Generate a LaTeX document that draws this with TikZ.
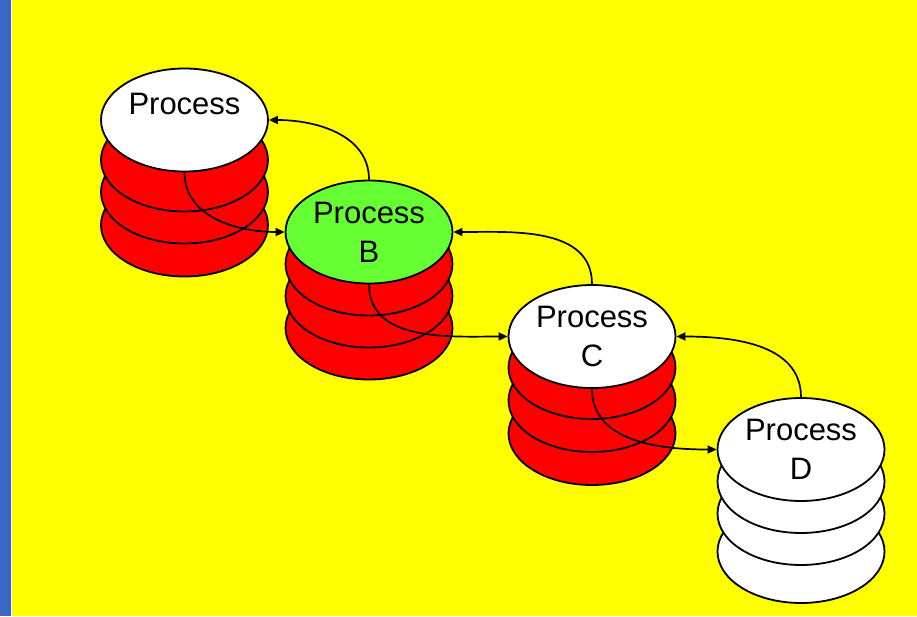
\documentclass[tikz,border=0pt]{standalone}
\usepackage{fontspec}
\setmainfont{Liberation Sans}
\usetikzlibrary{shapes.geometric,arrows.meta,calc}
\definecolor{bgyellow}{RGB}{255,255,0}
\definecolor{barblue}{RGB}{58,102,198}
\definecolor{procgreen}{RGB}{102,255,51}
\definecolor{procred}{RGB}{255,0,0}

\begin{document}
\begin{tikzpicture}[>={Triangle[length=9pt,width=8pt]}, x=1pt, y=-1pt,
        disk/.style={draw=black, line width=1.8pt},
        proc/.style={disk, ellipse, minimum width=167pt, minimum height=103pt,
            inner sep=0pt, align=center, font=\fontsize{31}{39}\selectfont},
        link/.style={->, line width=1.7pt}]
            \fill[bgyellow] (0,0) rectangle (917,616);
            \fill[barblue] (0,0) rectangle (10.5,616);
            \fill[white] (10.5,0) rectangle (11.5,616);
            \coordinate (a) at (184.5,120);
            \coordinate (b) at (369,232);
            \coordinate (c) at (592,336.5);
            \coordinate (d) at (801,449.5);
            % the layers under each process
            \foreach \dy in {105,72,40}
                \draw[disk,fill=procred] ($(a)+(0,\dy)$) ellipse (83.5 and 51.5);
            \foreach \dy in {96,64,32}
                \draw[disk,fill=procred] ($(b)+(0,\dy)$) ellipse (83.5 and 51.5);
            \foreach \dy in {97,64,31}
                \draw[disk,fill=procred] ($(c)+(0,\dy)$) ellipse (83.5 and 51.5);
            \foreach \dy in {102,64,32}
                \draw[disk,fill=white] ($(d)+(0,\dy)$) ellipse (83.5 and 51.5);
            \node[proc,fill=white] (pa) at (a) {Process\\[-6pt]\mbox{}};
            \node[proc,fill=procgreen] (pb) at (b) {Process\\B};
            \node[proc,fill=white] (pc) at (c) {Process\\C};
            \node[proc,fill=white] (pd) at (d) {Process\\D};
            % links
            \draw[link] (pb.north) to[out=90,in=0] (pa.east);
            \draw[link] (pc.north) to[out=90,in=0] (pb.east);
            \draw[link] (pd.north) to[out=90,in=0] (pc.east);
            \draw[link] (pa.south) to[out=-90,in=180] (pb.west);
            \draw[link] (pb.south) to[out=-90,in=180] (pc.west);
            \draw[link] (pc.south) to[out=-90,in=180] (pd.west);
\end{tikzpicture}
\end{document}
